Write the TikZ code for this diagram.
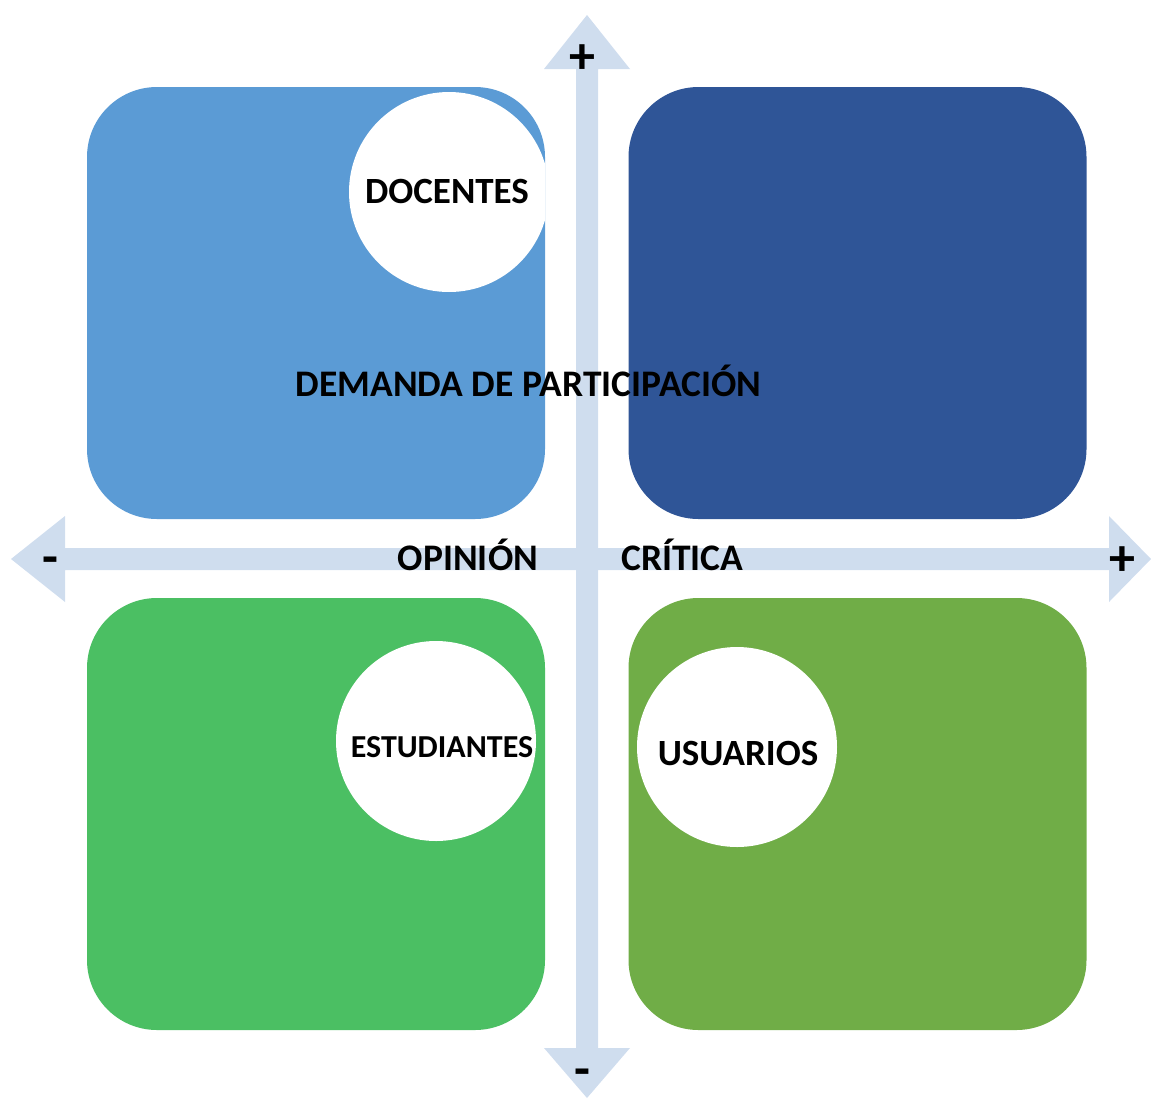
\documentclass[tikz,border=0pt]{standalone}
\usepackage{fontspec}
\setmainfont{Carlito}
\usepackage{tikz}
\usetikzlibrary{positioning}
\definecolor{axisblue}{RGB}{207,221,238}
\definecolor{skyblue}{RGB}{91,155,213}
\definecolor{darkblue}{RGB}{47,85,151}
\definecolor{leafgreen}{RGB}{75,191,99}
\definecolor{olivegreen}{RGB}{112,173,71}
\tikzset{
quad/.style={rectangle, rounded corners=70pt, minimum width=458pt, minimum height=432pt, inner sep=0pt, outer sep=0pt}, % the four coloured squares
circ/.style={circle, fill=white, minimum size=200pt, inner sep=0pt}, % white discs
grp/.style={font=\bfseries\fontsize{37}{44}\selectfont, inner sep=0pt}, % group names in the discs
lbl/.style={font=\bfseries\fontsize{37.5}{44}\selectfont, inner sep=0pt}, % axis texts
sign/.style={font=\bfseries\fontsize{52}{60}\selectfont, inner sep=0pt}, % + and - at the arrow heads
}
\begin{document}
\begin{tikzpicture}[x=1pt, y=-1pt]
                \useasboundingbox (0,0) rectangle (1151,1098);
                % axes
                \fill[axisblue] (11,559) -- (65,516) -- (65,548) -- (1109,548) -- (1109,516) -- (1151,559)
                    -- (1109,602) -- (1109,570) -- (65,570) -- (65,602) -- cycle;
                \fill[axisblue] (587,15) -- (630,69) -- (598,69) -- (598,1048) -- (630,1048) -- (587,1098)
                    -- (544,1048) -- (576,1048) -- (576,69) -- (544,69) -- cycle;
                % quadrants
                \node[quad, fill=skyblue] (tl) at (316,303) {};
                \node[quad, fill=darkblue] (tr) at (857.5,303) {};
                \node[quad, fill=leafgreen] (bl) at (316,814) {};
                \node[quad, fill=olivegreen] (br) at (857.5,814) {};
                % groups
                \begin{scope}
                    \clip (0,0) rectangle (545,1098);
                    \node[circ] (docentes) at (449,192) {};
                \end{scope}
                \node[circ] (estudiantes) at (436,741) {};
                \node[circ] (usuarios) at (737,747) {};
                \node[grp] (docentestxt) at ([shift={(-2,-1)}]docentes.center) {DOCENTES};
                \node[grp, font=\bfseries\fontsize{32}{38}\selectfont] (estudiantestxt) at ([shift={(6,6)}]estudiantes.center) {ESTUDIANTES};
                \node[grp] (usuariostxt) at ([shift={(1,6)}]usuarios.center) {USUARIOS};
                % axis texts
                \node[lbl] (demanda) at (528.5,381) {DEMANDA DE PARTICIPACIÓN};
                \node[lbl] (opinion) at (468,555) {OPINIÓN};
                \node[lbl] (critica) at (682.5,555) {CRÍTICA};
                \node[sign] (top) at (582,59) {+};
                \node[sign] (bottom) at (582,1078) {-};
                \node[sign] (left) at (50,566) {-};
                \node[sign] (right) at (1122,561) {+};
\end{tikzpicture}
\end{document}
